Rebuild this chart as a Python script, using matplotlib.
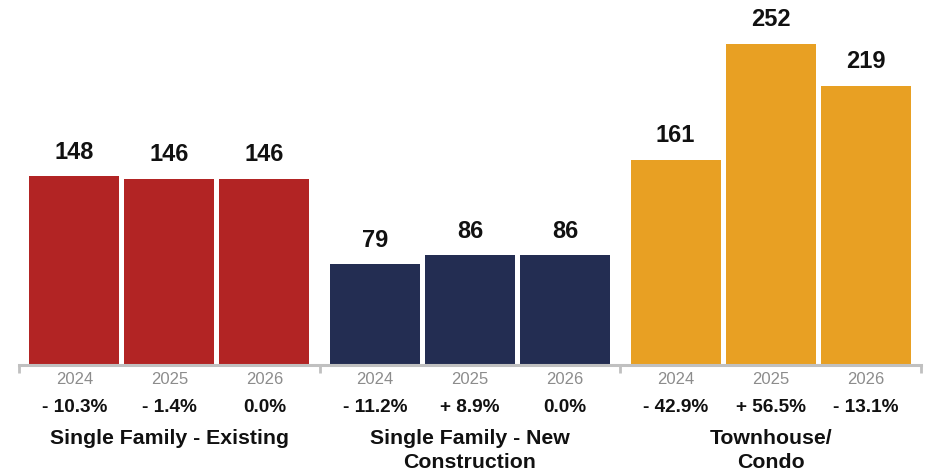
import matplotlib
matplotlib.use("Agg")
import matplotlib.pyplot as plt

plt.rcParams['font.family'] = ['Liberation Sans', 'DejaVu Sans']

# Data
groups = ["Single Family - Existing", "Single Family - New\nConstruction", "Townhouse/\nCondo"]
years = ["2024", "2025", "2026"]
values = [
    [148, 146, 146],
    [79, 86, 86],
    [161, 252, 219],
]
pct_change = [
    [-10.3, -1.4, 0.0],
    [-11.2, 8.9, 0.0],
    [-42.9, 56.5, -13.1],
]
colors = ["#B22424", "#232D52", "#E8A023"]

W, H = 926, 475
fig = plt.figure(figsize=(W / 100, H / 100), dpi=100)
ax = fig.add_axes([19 / W, (H - 365) / H, 902 / W, 365 / H])

slot = 95 / 300.67
bar_w = 90 / 300.67
pad = (1 - 3 * slot) / 2


def fmt_pct(v):
    if v > 0:
        return f"+ {v:.1f}%"
    if v < 0:
        return f"- {abs(v):.1f}%"
    return f"{v:.1f}%"


for g, (vals, pcts, col, name) in enumerate(zip(values, pct_change, colors, groups)):
    for i, (v, p, yr) in enumerate(zip(vals, pcts, years)):
        x = g + pad + slot / 2 + i * slot
        ax.bar(x, v, width=bar_w, color=col, zorder=2)
        ax.annotate(str(v), xy=(x, v), xytext=(0, 24), textcoords='offset pixels',
                    ha='center', va='center', fontsize=17, fontweight='bold', color='#111111')
        ax.annotate(yr, xy=(x, 0), xytext=(0, -15), textcoords='offset pixels',
                    ha='center', va='center', fontsize=12, color='#8C8C8C',
                    annotation_clip=False)
        ax.annotate(fmt_pct(p), xy=(x, 0), xytext=(0, -42), textcoords='offset pixels',
                    ha='center', va='center', fontsize=13.7, fontweight='bold', color='#111111',
                    annotation_clip=False)
    for k, line in enumerate(name.split("\n")):
        ax.annotate(line, xy=(g + 0.5, 0), xytext=(0, -73 - 24 * k), textcoords='offset pixels',
                    ha='center', va='center', fontsize=15.3, fontweight='bold', color='#111111',
                    annotation_clip=False)

ax.set_xlim(0, 3)
ax.set_ylim(0, 365 / 1.274)
ax.set_yticks([])
ax.set_xticks([0, 1, 2, 3])
ax.set_xticklabels([])
ax.tick_params(axis='x', direction='out', length=5.5, width=2, color='#C0C0C0')
for s in ['top', 'right', 'left']:
    ax.spines[s].set_visible(False)
ax.spines['bottom'].set_color('#C0C0C0')
ax.spines['bottom'].set_linewidth(2.2)
ax.spines['bottom'].set_zorder(3)
ax.patch.set_visible(False)

fig.savefig("out.png", dpi=100, facecolor='white')
